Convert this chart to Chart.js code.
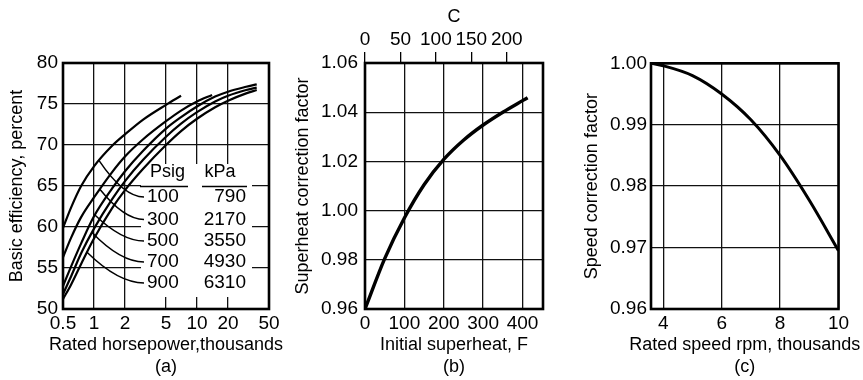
<!DOCTYPE html>
<html><head><meta charset="utf-8">
<script src="https://cdn.jsdelivr.net/npm/chart.js@4.4.1/dist/chart.umd.min.js"></script>
<style>
html,body{margin:0;padding:0;background:#fff;}
#wrap{position:relative;width:863px;height:380px;overflow:hidden;background:#fff;}
canvas{position:absolute;top:0;}
</style></head><body>
<div id="wrap">
<canvas id="ca" width="290" height="380" style="left:0px;width:290px;height:380px"></canvas>
<canvas id="cb" width="287" height="380" style="left:288px;width:287px;height:380px"></canvas>
<canvas id="cc" width="288" height="380" style="left:575px;width:288px;height:380px"></canvas>
</div>
<script>
// ---------- Panel (a) data ----------
const psigLabels = ['100', '300', '500', '700', '900'];
const kpaLabels = ['790', '2170', '3550', '4930', '6310'];
const hp100 = [0.5, 0.6, 0.75, 1, 1.5, 2, 3, 5, 7];
const eff100 = [59.9, 62.4, 65.0, 67.4, 69.9, 71.3, 73.1, 74.9, 76.0];
const hp300 = [0.5, 0.6, 0.75, 1, 1.5, 2, 3, 5, 7, 10, 14];
const eff300 = [56.3, 58.7, 61.2, 63.6, 66.7, 68.6, 70.7, 72.9, 74.2, 75.3, 76.1];
const hp500 = [0.5, 0.6, 0.75, 1, 1.5, 2, 3, 5, 7, 10, 15, 20, 30, 38];
const eff500 = [52.8, 55.2, 58.0, 61.3, 64.7, 66.8, 69.3, 72.0, 73.4, 74.7, 75.9, 76.5, 77.1, 77.4];
const hp700 = [0.5, 0.6, 0.75, 1, 1.5, 2, 3, 5, 7, 10, 15, 20, 30, 38];
const eff700 = [51.8, 54.0, 56.8, 59.8, 63.4, 65.6, 68.2, 71.0, 72.6, 74.0, 75.3, 76.0, 76.7, 77.0];
const hp900 = [0.5, 0.6, 0.75, 1, 1.5, 2, 3, 5, 7, 10, 15, 20, 30, 38];
const eff900 = [51.2, 53.0, 55.5, 58.6, 62.3, 64.5, 67.1, 70.0, 71.7, 73.2, 74.6, 75.4, 76.3, 76.7];
const leaderHp = [1.12, 1.14, 1.02, 0.956, 0.855];
const hpTicks = [0.5, 1, 2, 5, 10, 20, 50];
const effTicks = [50, 55, 60, 65, 70, 75, 80];

// ---------- Panel (b) data ----------
const superheatF = [0, 50, 100, 150, 200, 250, 300, 350, 400, 413];
const superFactor = [0.96, 0.9805, 0.997, 1.0105, 1.0208, 1.0286, 1.0348, 1.040, 1.0447, 1.0459];
const superFTicks = [0, 100, 200, 300, 400];
const superCTicks = [0, 50, 100, 150, 200];
const superFactorTicks = [0.96, 0.98, 1.00, 1.02, 1.04, 1.06];

// ---------- Panel (c) data ----------
const speedRpm = [3.58, 4, 5, 6, 7, 8, 9, 10];
const speedFactor = [1.0, 0.9996, 0.998, 0.995, 0.9908, 0.985, 0.9777, 0.9695];
const rpmTicks = [4, 6, 8, 10];
const speedFactorTicks = [0.96, 0.97, 0.98, 0.99, 1.00];

const FONT = '"Liberation Sans", Arial, sans-serif';
const TICK_FONT = { family: FONT, size: 19 };
const TITLE_FONT = { family: FONT, size: 18 };
const GRID = { color: '#111', lineWidth: 1.3, drawTicks: false };

function framePlugin(xTitle, tag) {
  return {
    id: 'frame_' + tag,
    afterDraw(chart) {
      const { ctx, chartArea: a } = chart;
      ctx.save();
      ctx.strokeStyle = '#000';
      ctx.lineWidth = 2.6;
      ctx.strokeRect(a.left, a.top, a.right - a.left, a.bottom - a.top);
      ctx.fillStyle = '#000';
      ctx.font = '18px ' + FONT;
      ctx.textAlign = 'center';
      ctx.textBaseline = 'middle';
      const cx = (a.left + a.right) / 2;
      ctx.fillText(xTitle, cx, a.bottom + 36);
      ctx.fillText('(' + tag + ')', cx, a.bottom + 58);
      ctx.restore();
    }
  };
}

function ticksFrom(arr) {
  return (s) => { s.ticks = arr.map(v => ({ value: v })); };
}

// ---------- Panel (a) ----------
const hpSets = [hp100, hp300, hp500, hp700, hp900];
const effSets = [eff100, eff300, eff500, eff700, eff900];

function interpLog(hps, effs, h) {
  for (let i = 0; i < hps.length - 1; i++) {
    if (h >= hps[i] && h <= hps[i + 1]) {
      const t = (Math.log(h) - Math.log(hps[i])) / (Math.log(hps[i + 1]) - Math.log(hps[i]));
      return effs[i] + t * (effs[i + 1] - effs[i]);
    }
  }
  return effs[0];
}

const tablePlugin = {
  id: 'table',
  beforeDatasetsDraw(chart) {
    const { ctx, chartArea: a } = chart;
    ctx.save();
    ctx.fillStyle = '#fff';
    ctx.fillRect(a.left + 78, a.top + 101, 111, 133);
    ctx.restore();
  },
  afterDatasetsDraw(chart) {
    const { ctx, chartArea: a, scales } = chart;
    ctx.save();
    ctx.fillStyle = '#000';
    ctx.strokeStyle = '#000';
    ctx.font = '18px ' + FONT;
    ctx.textBaseline = 'middle';
    ctx.textAlign = 'center';
    ctx.fillText('Psig', a.left + 104.5, a.top + 109);
    ctx.fillText('kPa', a.left + 157, a.top + 109);
    ctx.lineWidth = 1.4;
    ctx.beginPath();
    ctx.moveTo(a.left + 77, a.top + 123.5); ctx.lineTo(a.left + 125, a.top + 123.5);
    ctx.moveTo(a.left + 139, a.top + 123.5); ctx.lineTo(a.left + 184, a.top + 123.5);
    ctx.stroke();
    const rowY = [134, 156.5, 178, 199, 220];
    ctx.font = '19px ' + FONT;
    for (let i = 0; i < psigLabels.length; i++) {
      const y = a.top + rowY[i];
      ctx.textAlign = 'left';
      ctx.fillText(psigLabels[i], a.left + 84, y);
      ctx.textAlign = 'right';
      ctx.fillText(kpaLabels[i], a.left + 183, y);
      // leader line from curve to label
      const h = leaderHp[i];
      const e = interpLog(hpSets[i], effSets[i], h);
      const ax = scales.x.getPixelForValue(h);
      const ay = scales.y.getPixelForValue(e);
      const ex = a.left + 81, ey = y;
      ctx.lineWidth = 1.5;
      ctx.beginPath();
      ctx.moveTo(ax, ay);
      ctx.quadraticCurveTo(ax + 0.55 * (ex - ax), ey, ex, ey);
      ctx.stroke();
    }
    ctx.restore();
  }
};

new Chart(document.getElementById('ca'), {
  type: 'line',
  data: {
    datasets: hpSets.map((hs, i) => ({
      label: psigLabels[i] + ' psig',
      data: hs.map((h, j) => ({ x: h, y: effSets[i][j] })),
      borderColor: '#000', borderWidth: 2.2, pointRadius: 0, fill: false,
      cubicInterpolationMode: 'monotone'
    }))
  },
  options: {
    responsive: false, animation: false, devicePixelRatio: 1,
    layout: { padding: { left: 0, right: 21, top: 63, bottom: 0 } },
    plugins: { legend: { display: false }, tooltip: { enabled: false } },
    scales: {
      x: {
        type: 'logarithmic', min: 0.5, max: 50,
        afterBuildTicks: ticksFrom(hpTicks),
        afterFit: s => { s.height = 71; },
        grid: GRID, border: { display: false },
        ticks: { autoSkip: false, maxRotation: 0, padding: 3, color: '#000', font: TICK_FONT, callback: v => String(v) }
      },
      y: {
        min: 50, max: 80,
        afterBuildTicks: ticksFrom(effTicks),
        afterFit: s => { s.width = 63; },
        grid: GRID, border: { display: false },
        ticks: { padding: 5, color: '#000', font: TICK_FONT },
        title: { display: true, text: 'Basic efficiency, percent', color: '#000', font: TITLE_FONT, padding: { top: 6, bottom: 0 } }
      }
    }
  },
  plugins: [tablePlugin, framePlugin('Rated horsepower,thousands', 'a')]
});

// ---------- Panel (b) ----------
const fMax = 452;
new Chart(document.getElementById('cb'), {
  type: 'line',
  data: {
    datasets: [{
      label: 'Superheat correction factor',
      data: superheatF.map((f, i) => ({ x: f, y: superFactor[i] })),
      borderColor: '#000', borderWidth: 3.4, pointRadius: 0, fill: false,
      cubicInterpolationMode: 'monotone'
    }]
  },
  options: {
    responsive: false, animation: false, devicePixelRatio: 1,
    layout: { padding: { left: 0, right: 32, top: 0, bottom: 0 } },
    plugins: { legend: { display: false }, tooltip: { enabled: false } },
    scales: {
      x: {
        type: 'linear', min: 0, max: fMax,
        afterBuildTicks: ticksFrom(superFTicks),
        afterFit: s => { s.height = 71; },
        grid: GRID, border: { display: false },
        ticks: { autoSkip: false, maxRotation: 0, padding: 3, color: '#000', font: TICK_FONT }
      },
      x2: {
        type: 'linear', position: 'top', min: 0, max: fMax / 1.8,
        afterBuildTicks: ticksFrom(superCTicks),
        afterFit: s => { s.height = 63; },
        grid: { drawOnChartArea: false, drawTicks: true, tickLength: 11, color: '#000', lineWidth: 1.3 },
        border: { display: false },
        ticks: { autoSkip: false, maxRotation: 0, padding: 1, color: '#000', font: TICK_FONT },
        title: { display: true, text: 'C', color: '#000', font: TITLE_FONT, padding: { top: 6, bottom: 0 } }
      },
      y: {
        min: 0.96, max: 1.06,
        afterBuildTicks: ticksFrom(superFactorTicks),
        afterFit: s => { s.width = 77; },
        grid: GRID, border: { display: false },
        ticks: { padding: 7, color: '#000', font: TICK_FONT, callback: v => Number(v).toFixed(2) },
        title: { display: true, text: 'Superheat correction factor', color: '#000', font: TITLE_FONT, padding: { top: 4, bottom: 0 } }
      }
    }
  },
  plugins: [framePlugin('Initial superheat, F', 'b')]
});

// ---------- Panel (c) ----------
new Chart(document.getElementById('cc'), {
  type: 'line',
  data: {
    datasets: [{
      label: 'Speed correction factor',
      data: speedRpm.map((r, i) => ({ x: r, y: speedFactor[i] })),
      borderColor: '#000', borderWidth: 3.0, pointRadius: 0, fill: false,
      cubicInterpolationMode: 'monotone'
    }]
  },
  options: {
    responsive: false, animation: false, devicePixelRatio: 1,
    layout: { padding: { left: 0, right: 24.5, top: 63.3, bottom: 0 } },
    plugins: { legend: { display: false }, tooltip: { enabled: false } },
    scales: {
      x: {
        type: 'linear', min: 3.58, max: 10,
        afterBuildTicks: ticksFrom(rpmTicks),
        afterFit: s => { s.height = 71; },
        grid: GRID, border: { display: false },
        ticks: { autoSkip: false, maxRotation: 0, padding: 3, color: '#000', font: TICK_FONT }
      },
      y: {
        min: 0.96, max: 1.00,
        afterBuildTicks: ticksFrom(speedFactorTicks),
        afterFit: s => { s.width = 76; },
        grid: GRID, border: { display: false },
        ticks: { padding: 4, color: '#000', font: TICK_FONT, callback: v => Number(v).toFixed(2) },
        title: { display: true, text: 'Speed correction factor', color: '#000', font: TITLE_FONT, padding: { top: 6, bottom: 0 } }
      }
    }
  },
  plugins: [framePlugin('Rated speed rpm, thousands', 'c')]
});
</script>
</body></html>
